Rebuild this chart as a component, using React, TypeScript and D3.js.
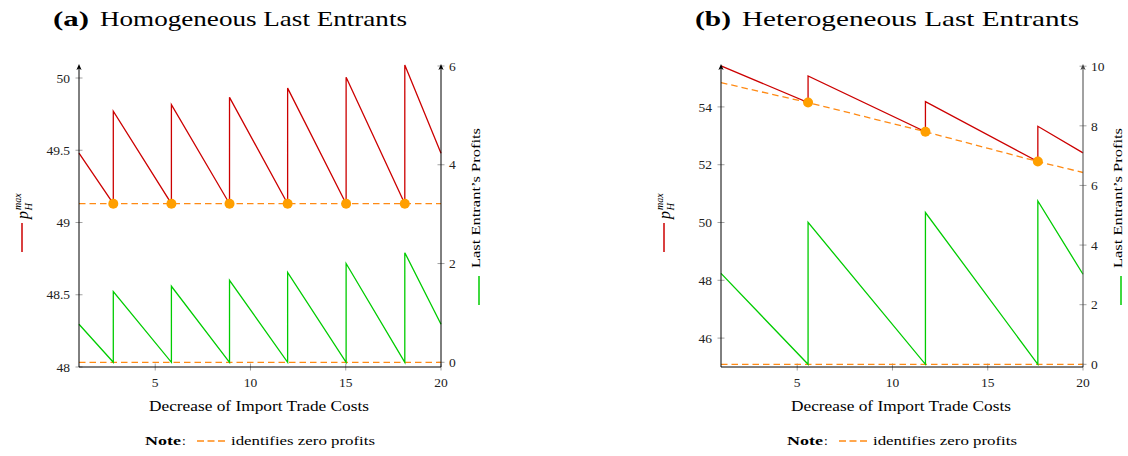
import React from "react";
import * as d3 from "d3";

// ---------- DATA ----------
type P = [number, number];

// Panel (a): Homogeneous last entrants
const priceA: P[] = [
  [1, 49.48], [2.8, 49.13], [2.8, 49.77], [5.85, 49.13], [5.85, 49.815],
  [8.9, 49.13], [8.9, 49.866], [11.95, 49.13], [11.95, 49.93], [15.02, 49.13],
  [15.02, 50.005], [18.1, 49.13], [18.1, 50.09], [20, 49.48],
];
const profitA: P[] = [
  [1, 0.77], [2.8, 0], [2.8, 1.43], [5.85, 0], [5.85, 1.54], [8.9, 0],
  [8.9, 1.66], [11.95, 0], [11.95, 1.82], [15.02, 0], [15.02, 2.0], [18.1, 0],
  [18.1, 2.22], [20, 0.77],
];
const zeroPriceA: P[] = [[1, 49.13], [20, 49.13]];
const dotsA: P[] = [[2.8, 49.13], [5.85, 49.13], [8.9, 49.13], [11.95, 49.13], [15.02, 49.13], [18.1, 49.13]];
const leftTicksA = [48, 48.5, 49, 49.5, 50];
const rightTicksA = [0, 2, 4, 6];
const leftDomainA: [number, number] = [48, 50.09];
const rightDomainA: [number, number] = [-0.095, 6.02];

// Panel (b): Heterogeneous last entrants
const priceB: P[] = [
  [1, 55.42], [5.57, 54.15], [5.57, 55.07], [11.73, 53.14], [11.73, 54.18],
  [17.63, 52.11], [17.63, 53.33], [20, 52.41],
];
const profitB: P[] = [
  [1, 3.05], [5.57, 0], [5.57, 4.76], [11.73, 0], [11.73, 5.09],
  [17.63, 0], [17.63, 5.48], [20, 3.02],
];
const zeroPriceB: P[] = [[1, 54.84], [5.57, 54.15], [11.73, 53.14], [17.63, 52.11], [20, 51.73]];
const dotsB: P[] = [[5.57, 54.15], [11.73, 53.14], [17.63, 52.11]];
const leftTicksB = [46, 48, 50, 52, 54];
const rightTicksB = [0, 2, 4, 6, 8, 10];
const leftDomainB: [number, number] = [45, 55.45];
const rightDomainB: [number, number] = [-0.09, 10.04];

const xTicks = [5, 10, 15, 20];
const xDomain: [number, number] = [1, 20];

// ---------- STYLE ----------
const RED = "#cc0000";
const GREEN = "#00cc00";
const ORANGE_DASH = "#ff8a14";
const ORANGE_DOT = "#ff9f00";
const FONT = "'Liberation Serif', 'Times New Roman', serif";
const TICKGRAY = "#8a8a8a";

type PanelProps = {
  ox: number;
  letter: string;
  title: string;
  titleLen: number;
  price: P[];
  profit: P[];
  zeroPrice: P[];
  dots: P[];
  leftTicks: number[];
  rightTicks: number[];
  leftDomain: [number, number];
  rightDomain: [number, number];
  rightAxisColor: string;
};

function Panel(p: PanelProps) {
  const x0 = p.ox + 79;
  const x1 = p.ox + 441;
  const yTop = 65;
  const yBot = 367;
  const x = d3.scaleLinear().domain(xDomain).range([x0, x1]);
  const yl = d3.scaleLinear().domain(p.leftDomain).range([yBot, yTop]);
  const yr = d3.scaleLinear().domain(p.rightDomain).range([yBot, yTop]);
  const lineL = d3.line<P>().x((d) => x(d[0])).y((d) => yl(d[1]));
  const lineR = d3.line<P>().x((d) => x(d[0])).y((d) => yr(d[1]));
  const fmt = (v: number) => String(v);
  const arrow = (ax: number, color: string) => (
    <path d={`M${ax - 2.6},${yTop + 5} L${ax},${yTop - 1} L${ax + 2.6},${yTop + 5} L${ax},${yTop + 3.5} Z`} fill={color} />
  );
  return (
    <g>
      {/* title */}
      <text x={p.ox + 53} y={26} fontFamily={FONT} fontSize={22} fontWeight="bold" textLength={36} lengthAdjust="spacingAndGlyphs">{`(${p.letter})`}</text>
      <text x={p.ox + 100} y={26} fontFamily={FONT} fontSize={21.5} textLength={p.titleLen} lengthAdjust="spacingAndGlyphs">{p.title}</text>

      {/* ticks */}
      {p.leftTicks.map((t) => (
        <g key={"l" + t}>
          <line x1={x0 - 3.5} x2={x0 + 3.5} y1={yl(t)} y2={yl(t)} stroke={TICKGRAY} strokeWidth={0.8} />
          <text x={x0 - 9} y={yl(t)} dy="0.35em" textAnchor="end" fontFamily={FONT} fontSize={13.5} fill="#222">{fmt(t)}</text>
        </g>
      ))}
      {p.rightTicks.map((t) => (
        <g key={"r" + t}>
          <line x1={x1 - 3.5} x2={x1 + 3.5} y1={yr(t)} y2={yr(t)} stroke={TICKGRAY} strokeWidth={0.8} />
          <text x={x1 + 8} y={yr(t)} dy="0.35em" textAnchor="start" fontFamily={FONT} fontSize={13.5} fill="#222">{fmt(t)}</text>
        </g>
      ))}
      {xTicks.map((t) => (
        <g key={"x" + t}>
          <line x1={x(t)} x2={x(t)} y1={yBot - 3.5} y2={yBot + 3.5} stroke={TICKGRAY} strokeWidth={0.8} />
          <text x={x(t)} y={yBot + 20} textAnchor="middle" fontFamily={FONT} fontSize={13.5} fill="#222">{fmt(t)}</text>
        </g>
      ))}

      {/* zero-profit dashed lines */}
      <path d={lineL(p.zeroPrice) || ""} fill="none" stroke={ORANGE_DASH} strokeWidth={1.3} strokeDasharray="6.5 4" />
      <path d={lineR([[xDomain[0], 0], [xDomain[1], 0]]) || ""} fill="none" stroke={ORANGE_DASH} strokeWidth={1.3} strokeDasharray="6.5 4" />

      {/* series */}
      <path d={lineR(p.profit) || ""} fill="none" stroke={GREEN} strokeWidth={1.3} strokeLinejoin="miter" />
      <path d={lineL(p.price) || ""} fill="none" stroke={RED} strokeWidth={1.3} strokeLinejoin="miter" />
      {p.dots.map((d, i) => (
        <circle key={i} cx={x(d[0])} cy={yl(d[1])} r={5} fill={ORANGE_DOT} />
      ))}

      {/* axes */}
      <line x1={x0} x2={x0} y1={yBot} y2={yTop + 2} stroke="#000" strokeWidth={1} />
      {arrow(x0, "#000")}
      <line x1={x1} x2={x1} y1={yBot} y2={yTop + 2} stroke={p.rightAxisColor} strokeWidth={1} />
      {arrow(x1, p.rightAxisColor)}
      <line x1={x0} x2={x1} y1={yBot} y2={yBot} stroke="#000" strokeWidth={1} />

      {/* left y label with legend line */}
      <g transform={`translate(${p.ox + 28},${219}) rotate(-90)`}>
        <text x={0} y={0} fontFamily={FONT} fontSize={16} fontStyle="italic">p</text>
        <text x={8.5} y={4} fontFamily={FONT} fontSize={10.5} fontStyle="italic">H</text>
        <text x={9} y={-7} fontFamily={FONT} fontSize={10} fontStyle="italic">max</text>
      </g>
      <line x1={p.ox + 22} x2={p.ox + 22} y1={223} y2={252} stroke={RED} strokeWidth={1.5} />

      {/* right y label with legend line */}
      <g transform={`translate(${p.ox + 480},${198}) rotate(-90)`}>
        <text x={0} y={0} textAnchor="middle" fontFamily={FONT} fontSize={13.5} textLength={140} lengthAdjust="spacingAndGlyphs">Last Entrant’s Profits</text>
      </g>
      <line x1={p.ox + 479} x2={p.ox + 479} y1={276} y2={305} stroke={GREEN} strokeWidth={1.5} />

      {/* x label */}
      <text x={p.ox + 259} y={410.5} textAnchor="middle" fontFamily={FONT} fontSize={14} textLength={220} lengthAdjust="spacingAndGlyphs">Decrease of Import Trade Costs</text>

      {/* note */}
      <text x={p.ox + 145} y={445} fontFamily={FONT} fontSize={13.5} fontWeight="bold" textLength={36} lengthAdjust="spacingAndGlyphs">Note</text>
      <text x={p.ox + 182} y={445} fontFamily={FONT} fontSize={13.5}>:</text>
      <line x1={p.ox + 197} x2={p.ox + 225} y1={441} y2={441} stroke={ORANGE_DASH} strokeWidth={1.3} strokeDasharray="7 3.5" />
      <text x={p.ox + 231} y={445} fontFamily={FONT} fontSize={13.5} textLength={144} lengthAdjust="spacingAndGlyphs">identifies zero profits</text>
    </g>
  );
}

export default function App() {
  return (
    <svg width={1128} height={456} style={{ position: "absolute", left: 0, top: 0, background: "#fff" }}>
      <rect width={1128} height={456} fill="#fff" />
      <Panel
        ox={0}
        letter="a"
        title="Homogeneous Last Entrants"
        titleLen={307}
        price={priceA}
        profit={profitA}
        zeroPrice={zeroPriceA}
        dots={dotsA}
        leftTicks={leftTicksA}
        rightTicks={rightTicksA}
        leftDomain={leftDomainA}
        rightDomain={rightDomainA}
        rightAxisColor="#000"
      />
      <Panel
        ox={642}
        letter="b"
        title="Heterogeneous Last Entrants"
        titleLen={337}
        price={priceB}
        profit={profitB}
        zeroPrice={zeroPriceB}
        dots={dotsB}
        leftTicks={leftTicksB}
        rightTicks={rightTicksB}
        leftDomain={leftDomainB}
        rightDomain={rightDomainB}
        rightAxisColor="#444"
      />
    </svg>
  );
}
